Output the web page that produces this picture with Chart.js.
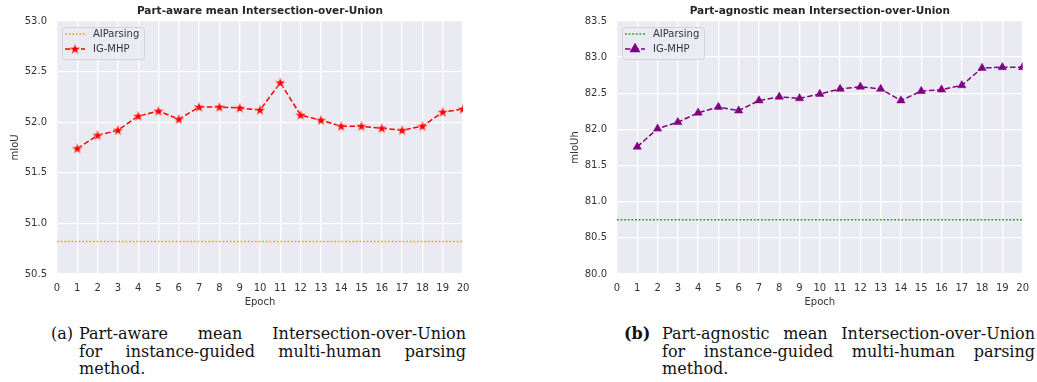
<!DOCTYPE html>
<html lang="en">
<head>
<meta charset="UTF-8">
<title>Part-aware / Part-agnostic mean Intersection-over-Union</title>
<style>
  body {
    margin: 0;
    width: 1037px;
    height: 382px;
    overflow: hidden;
    position: relative;
    background: #fff;
    font-family: "DejaVu Sans", sans-serif;
  }
  canvas { position: absolute; top: 0; }
  #awareChart { left: 0; }
  #agnosticChart { left: 560px; }
  .caption {
    position: absolute;
    top: 325px;
    font-family: "DejaVu Serif", serif;
    font-size: 16px;
    line-height: 17.5px;
    color: #111;
  }
  .caption .tag { position: absolute; left: 0; top: 0; }
  .caption .body { position: absolute; top: 0; }
  .caption .line { display: block; white-space: nowrap; }
  .caption .just { text-align: justify; text-align-last: justify; white-space: normal; }
</style>
</head>
<body>
<canvas id="awareChart" width="520" height="310"></canvas>
<canvas id="agnosticChart" width="477" height="310"></canvas>

<div class="caption" style="left:51px;">
  <span class="tag">(a)</span>
  <div class="body" style="left:28px; width:387px;">
    <span class="line just">Part-aware mean Intersection-over-Union</span>
    <span class="line just">for instance-guided multi-human parsing</span>
    <span class="line">method.</span>
  </div>
</div>
<div class="caption" style="left:624px;">
  <span class="tag" style="font-weight:bold;">(b)</span>
  <div class="body" style="left:38px; width:373px;">
    <span class="line just">Part-agnostic mean Intersection-over-Union</span>
    <span class="line just">for instance-guided multi-human parsing</span>
    <span class="line">method.</span>
  </div>
</div>

<script src="https://cdn.jsdelivr.net/npm/chart.js"></script>
<script>
// data
const epochs = [1, 2, 3, 4, 5, 6, 7, 8, 9, 10, 11, 12, 13, 14, 15, 16, 17, 18, 19, 20];
const igMhpAware = [51.74, 51.87, 51.92, 52.06, 52.11, 52.03, 52.15, 52.15, 52.14, 52.12,
                    52.39, 52.07, 52.02, 51.96, 51.96, 51.94, 51.92, 51.96, 52.10, 52.13];
const aiParsingAware = 50.82;
const igMhpAgnostic = [81.76, 82.01, 82.10, 82.23, 82.31, 82.26, 82.40, 82.45, 82.43, 82.49,
                       82.56, 82.59, 82.56, 82.40, 82.53, 82.55, 82.61, 82.85, 82.86, 82.86];
const aiParsingAgnostic = 80.75;
const epochRange = [0, 20];
const awareTicks = [50.5, 51.0, 51.5, 52.0, 52.5, 53.0];
const agnosticTicks = [80.0, 80.5, 81.0, 81.5, 82.0, 82.5, 83.0, 83.5];
const seriesNames = ['AIParsing', 'IG-MHP'];

const textColor = '#333333';
const bgColor = '#eaeaf2';

// filled five-point star marker (Chart.js 'star' is an asterisk)
function starMarker(color) {
  const c = document.createElement('canvas');
  c.width = 12; c.height = 12;
  const g = c.getContext('2d');
  g.beginPath();
  for (let i = 0; i < 10; i++) {
    const r = i % 2 === 0 ? 5.3 : 2.2;
    const a = -Math.PI / 2 + i * Math.PI / 5;
    g.lineTo(6 + r * Math.cos(a), 6.3 + r * Math.sin(a));
  }
  g.closePath();
  g.fillStyle = color;
  g.fill();
  g.lineWidth = 0.6;
  g.strokeStyle = 'rgba(255,170,170,0.9)';
  g.stroke();
  return c;
}

// background of the axes area + title centred over it
function axesDecor(title) {
  return {
    id: 'axesDecor',
    beforeDraw(chart) {
      const {ctx, chartArea: a} = chart;
      ctx.save();
      ctx.fillStyle = bgColor;
      ctx.fillRect(a.left, a.top, a.right - a.left, a.bottom - a.top);
      ctx.fillStyle = '#262626';
      ctx.font = 'bold 10.5px "DejaVu Sans"';
      ctx.textAlign = 'center';
      ctx.textBaseline = 'middle';
      ctx.fillText(title, (a.left + a.right) / 2, 11);
      ctx.restore();
    }
  };
}

// matplotlib style legend in the upper left of the axes
const innerLegend = {
  id: 'innerLegend',
  afterDraw(chart) {
    const {ctx, chartArea: a} = chart;
    const x = a.left + 5, y = a.top + 6, w = 82, h = 32;
    ctx.save();
    ctx.beginPath();
    ctx.roundRect(x + 0.5, y + 0.5, w, h, 3);
    ctx.fillStyle = 'rgba(234,234,242,0.85)';
    ctx.fill();
    ctx.strokeStyle = '#d2d2da';
    ctx.lineWidth = 1;
    ctx.stroke();
    chart.data.datasets.forEach((ds, i) => {
      const ry = y + 7 + i * 15;
      ctx.beginPath();
      ctx.setLineDash(ds.borderDash || []);
      ctx.strokeStyle = ds.borderColor;
      ctx.lineWidth = ds.borderWidth;
      ctx.moveTo(x + 3, ry);
      ctx.lineTo(x + 23, ry);
      ctx.stroke();
      ctx.setLineDash([]);
      if (ds.pointRadius > 0) {
        ctx.fillStyle = ds.pointBackgroundColor;
        ctx.strokeStyle = ds.pointBorderColor;
        Chart.helpers.drawPoint(ctx, {
          pointStyle: ds.pointStyle, radius: ds.pointRadius, rotation: 0, borderWidth: ds.pointBorderWidth
        }, x + 13, ry);
      }
      ctx.fillStyle = textColor;
      ctx.font = '10px "DejaVu Sans"';
      ctx.textBaseline = 'middle';
      ctx.fillText(ds.label, x + 31, ry);
    });
    ctx.restore();
  }
};

function makeChart(id, title, yLabel, values, baseline, yTicks, baseColor, mainColor, marker, radius, rightPad) {
  const datasets = [
    {
      label: seriesNames[0],
      data: epochRange.map(e => ({x: e, y: baseline})),
      borderColor: baseColor,
      borderWidth: 1.5,
      borderDash: [1.8, 1.8],
      pointRadius: 0,
      clip: 0
    },
    {
      label: seriesNames[1],
      data: epochs.map((e, i) => ({x: e, y: values[i]})),
      borderColor: mainColor,
      borderWidth: 1.5,
      borderDash: [5.5, 2.5],
      pointStyle: marker,
      pointRadius: radius,
      pointBackgroundColor: mainColor,
      pointBorderColor: mainColor,
      pointBorderWidth: 0.5,
      clip: 0
    }
  ];
  return new Chart(document.getElementById(id), {
    type: 'line',
    data: {datasets},
    plugins: [axesDecor(title), innerLegend],
    options: {
      responsive: false,
      animation: false,
      layout: {padding: {left: 0, right: rightPad, top: 21, bottom: 0}},
      plugins: {
        legend: {display: false},
        tooltip: {enabled: false},
        title: {display: false}
      },
      scales: {
        x: {
          type: 'linear',
          min: epochRange[0],
          max: epochRange[1],
          afterFit: s => { s.height = 36; },
          grid: {color: '#ffffff', lineWidth: 1.3, drawTicks: false},
          border: {display: false},
          ticks: {
            stepSize: 1,
            padding: 8,
            color: textColor,
            font: {family: 'DejaVu Sans', size: 10},
            maxRotation: 0,
            autoSkip: false
          },
          title: {
            display: true,
            text: 'Epoch',
            color: textColor,
            font: {family: 'DejaVu Sans', size: 10},
            padding: {top: 0, bottom: 2}
          }
        },
        y: {
          min: yTicks[0],
          max: yTicks[yTicks.length - 1],
          afterFit: s => { s.width = 57; },
          afterBuildTicks: s => { s.ticks = yTicks.map(v => ({value: v})); },
          grid: {color: '#ffffff', lineWidth: 1.3, drawTicks: false},
          border: {display: false},
          ticks: {
            padding: 10,
            color: textColor,
            font: {family: 'DejaVu Sans', size: 10},
            callback: v => v.toFixed(1)
          },
          title: {
            display: true,
            text: yLabel,
            color: textColor,
            font: {family: 'DejaVu Sans', size: 10},
            padding: {top: 9, bottom: 0}
          }
        }
      }
    }
  });
}

makeChart('awareChart', 'Part-aware mean Intersection-over-Union', 'mIoU',
  igMhpAware, aiParsingAware, awareTicks, '#ffa500', '#ff0000', starMarker('#ff0000'), 6, 57);
makeChart('agnosticChart', 'Part-agnostic mean Intersection-over-Union', 'mIoUh',
  igMhpAgnostic, aiParsingAgnostic, agnosticTicks, '#2a9a2a', '#800080', 'triangle', 4.8, 14);
</script>
</body>
</html>
